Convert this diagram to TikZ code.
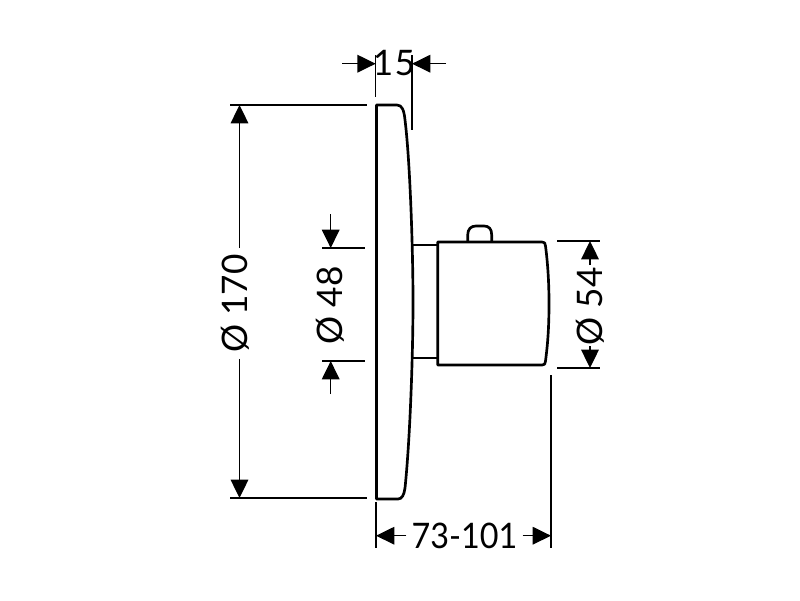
\documentclass[tikz,border=0pt]{standalone}
\usepackage{fontspec}
\setmainfont{Lato}
\usetikzlibrary{arrows.meta}
\tikzset{
  outline/.style={line width=1.9pt, line join=round},
  dimline/.style={line width=0.95pt},
  dimtip/.style={line width=0.95pt, -{Triangle[length=13pt,width=12.5pt]}},
  dimtext/.style={inner sep=0pt, font=\fontsize{25}{25}\selectfont},
}
\begin{document}
\begin{tikzpicture}[x=0.025cm, y=-0.025cm]
        % page frame
        \useasboundingbox (0,0) rectangle (800,600);

        % wall plate
        \draw[outline] (376.5,105) -- (397,105) .. controls (402,105) and (404,110) .. (405,120)
            .. controls (410,160) and (413,250) .. (413,302)
            .. controls (413,355) and (410,440) .. (405,488)
            .. controls (404,495) and (402,499) .. (398,499) -- (376.5,499) -- cycle;

        % neck
        \draw[outline] (412,245) -- (437,245);
        \draw[outline] (412,358) -- (437,358);

        % handle and tab
        \draw[outline] (437.7,242) -- (542,242) .. controls (545,242) and (545,243) .. (545.5,246)
            .. controls (548,265) and (549,285) .. (549,303)
            .. controls (549,325) and (548,342) .. (545.5,361)
            .. controls (545,364) and (545,365) .. (542,365) -- (437.7,365) -- cycle;
        \draw[outline] (467.7,242) -- (467.7,235) .. controls (467.7,229) and (471,226) .. (476,226)
            -- (484,226) .. controls (489,226) and (491.7,229) .. (491.7,235) -- (491.7,242);

        % dimension 15
        \coordinate (w15l) at (375.7,63.7);
        \coordinate (w15r) at (412,63.7);
        \coordinate (t15l) at (342,63.7);
        \coordinate (t15r) at (446,63.7);
        \node[dimtext] (l15) at (394,63) {1\kern 1pt 5};
        \draw[dimline] (375.7,55) -- (375.7,97);
        \draw[dimline] (412,55) -- (412,130);
        \draw[dimtip] (t15l) -- (w15l);
        \draw[dimtip] (t15r) -- (w15r);

        % dimension 170
        \coordinate (d170t) at (239.5,105);
        \coordinate (d170b) at (239.5,498);
        \node[dimtext, rotate=90] (l170) at (235,303.5) {Ø 170};
        \draw[dimline] (230,105) -- (367,105);
        \draw[dimline] (230,498) -- (367,498);
        \draw[dimtip] (l170.east -| d170t) ++(0,-6) -- (d170t);
        \draw[dimtip] (l170.west -| d170b) ++(0,6) -- (d170b);

        % dimension 48
        \coordinate (d48t) at (330.7,248);
        \coordinate (d48b) at (330.7,361);
        \coordinate (t48t) at (330.7,214);
        \coordinate (t48b) at (330.7,394);
        \node[dimtext, rotate=90] (l48) at (330,305.5) {Ø 48};
        \draw[dimline] (322,248) -- (365,248);
        \draw[dimline] (322,361) -- (365,361);
        \draw[dimtip] (t48t) -- (d48t);
        \draw[dimtip] (t48b) -- (d48b);

        % dimension 54
        \coordinate (d54t) at (590,241);
        \coordinate (d54b) at (590,368);
        \coordinate (t54t) at (590,265);
        \coordinate (t54b) at (590,346);
        \node[dimtext, rotate=90] (l54) at (590,306.5) {Ø 54};
        \draw[dimline] (557,241) -- (600,241);
        \draw[dimline] (557,368) -- (600,368);
        \draw[dimtip] (t54t) -- (d54t);
        \draw[dimtip] (t54b) -- (d54b);

        % dimension 73-101
        \coordinate (d73l) at (376,535.7);
        \coordinate (d73r) at (551,535.7);
        \node[dimtext, xscale=0.92] (l73) at (464.5,535.7) {73-101};
        \draw[dimline] (376,502) -- (376,548);
        \draw[dimline] (551,375) -- (551,548);
        \draw[dimtip] (l73.west) ++(-5,0) -- (d73l);
        \draw[dimtip] (l73.east) ++(5,0) -- (d73r);
\end{tikzpicture}
\end{document}
